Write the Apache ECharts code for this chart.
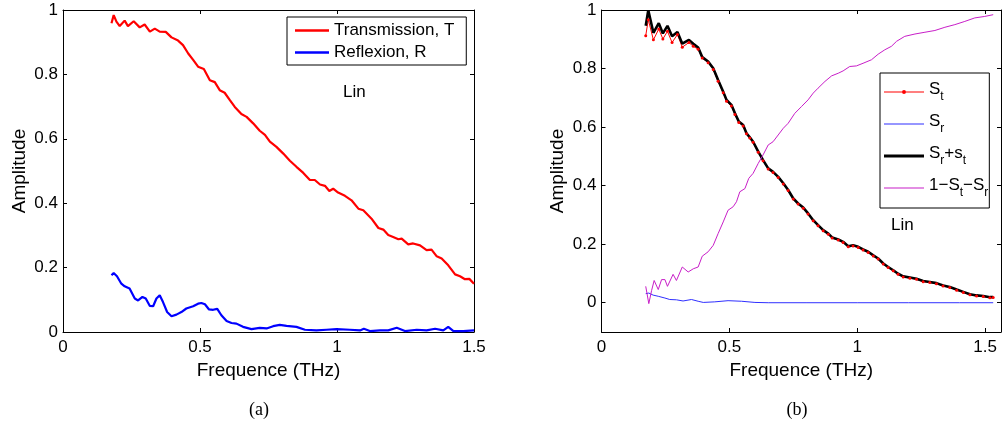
<!DOCTYPE html>
<html><head><meta charset="utf-8">
<script src="https://cdn.jsdelivr.net/npm/echarts@6/dist/echarts.min.js"></script>
<style>html,body{margin:0;padding:0;background:#fff}#c{width:1008px;height:433px}</style>
</head><body><div id="c"></div>
<script>
// ---- Panel (a) ----
const tFreq=[0.177,0.185,0.195,0.207,0.225,0.237,0.258,0.280,0.298,0.317,0.335,0.353,0.375,0.396,0.420,0.438,0.457,0.475,0.493,0.514,0.536,0.554,0.572,0.590,0.609,0.627,0.651,0.670,0.694,0.718,0.737,0.755,0.779,0.804,0.828,0.852,0.877,0.901,0.919,0.938,0.956,0.972,0.986,1.004,1.029,1.053,1.078,1.096,1.126,1.151,1.169,1.187,1.205,1.224,1.236,1.260,1.278,1.303,1.327,1.345,1.364,1.382,1.406,1.431,1.449,1.467,1.483,1.500];
const tAmp=[0.959,0.984,0.964,0.950,0.967,0.950,0.965,0.946,0.955,0.933,0.942,0.933,0.932,0.915,0.905,0.891,0.865,0.845,0.824,0.817,0.782,0.776,0.751,0.743,0.720,0.699,0.677,0.668,0.648,0.625,0.612,0.591,0.575,0.554,0.532,0.513,0.494,0.472,0.472,0.458,0.454,0.438,0.445,0.433,0.423,0.409,0.383,0.378,0.352,0.323,0.318,0.301,0.295,0.288,0.290,0.272,0.275,0.269,0.254,0.256,0.235,0.228,0.207,0.179,0.173,0.164,0.165,0.150];
const rFreq=[0.177,0.185,0.197,0.213,0.225,0.243,0.262,0.274,0.290,0.302,0.317,0.329,0.341,0.353,0.365,0.380,0.396,0.414,0.432,0.450,0.475,0.493,0.505,0.518,0.533,0.548,0.563,0.578,0.597,0.615,0.633,0.657,0.688,0.718,0.743,0.767,0.791,0.816,0.852,0.883,0.925,0.962,0.998,1.047,1.084,1.098,1.120,1.157,1.187,1.218,1.248,1.291,1.327,1.358,1.388,1.406,1.425,1.461,1.500];
const rAmp=[0.176,0.183,0.173,0.150,0.142,0.135,0.104,0.098,0.109,0.104,0.081,0.080,0.104,0.114,0.093,0.062,0.049,0.054,0.062,0.073,0.080,0.088,0.090,0.086,0.070,0.069,0.072,0.052,0.034,0.028,0.026,0.016,0.009,0.013,0.011,0.018,0.022,0.019,0.016,0.007,0.005,0.007,0.009,0.007,0.005,0.010,0.003,0.005,0.005,0.013,0.003,0.007,0.005,0.010,0.005,0.016,0.003,0.003,0.005];

// ---- Panel (b) ----
const bFreq=[0.173,0.183,0.203,0.224,0.240,0.258,0.276,0.297,0.316,0.342,0.359,0.378,0.394,0.417,0.437,0.456,0.476,0.489,0.508,0.522,0.537,0.554,0.567,0.580,0.593,0.613,0.632,0.652,0.671,0.691,0.711,0.730,0.750,0.769,0.789,0.808,0.828,0.847,0.867,0.887,0.902,0.926,0.945,0.965,0.984,1.004,1.023,1.043,1.063,1.082,1.102,1.121,1.141,1.160,1.180,1.206,1.232,1.258,1.284,1.310,1.336,1.362,1.389,1.415,1.441,1.467,1.493,1.519,1.532];
const srstAmp=[0.946,0.999,0.922,0.955,0.920,0.946,0.910,0.925,0.885,0.898,0.885,0.872,0.839,0.824,0.801,0.761,0.721,0.693,0.676,0.647,0.619,0.607,0.579,0.565,0.550,0.516,0.487,0.459,0.447,0.430,0.408,0.385,0.356,0.339,0.325,0.305,0.282,0.265,0.248,0.236,0.223,0.216,0.208,0.193,0.196,0.191,0.182,0.174,0.162,0.151,0.134,0.122,0.111,0.099,0.090,0.086,0.082,0.074,0.071,0.067,0.059,0.054,0.045,0.037,0.029,0.025,0.023,0.019,0.019];
const stAmp=[0.912,0.967,0.898,0.935,0.901,0.927,0.889,0.916,0.873,0.889,0.876,0.866,0.836,0.820,0.797,0.757,0.717,0.688,0.672,0.643,0.616,0.604,0.577,0.563,0.548,0.514,0.485,0.457,0.445,0.428,0.406,0.383,0.354,0.337,0.323,0.303,0.280,0.263,0.246,0.234,0.221,0.214,0.206,0.191,0.194,0.189,0.180,0.172,0.160,0.149,0.132,0.120,0.109,0.097,0.088,0.084,0.080,0.072,0.069,0.065,0.057,0.052,0.043,0.035,0.027,0.023,0.021,0.017,0.018];
const srFreq=[0.173,0.185,0.202,0.222,0.248,0.267,0.293,0.319,0.352,0.378,0.398,0.443,0.495,0.548,0.600,0.652,0.800,1.000,1.200,1.400,1.532];
const srAmp=[0.031,0.033,0.026,0.022,0.016,0.011,0.010,0.006,0.011,0.005,0.001,0.003,0.007,0.005,0.001,0.000,0.000,0.000,0.000,0.000,0.000];
const lossFreq=[0.173,0.185,0.196,0.206,0.222,0.235,0.248,0.258,0.280,0.293,0.316,0.339,0.359,0.378,0.394,0.417,0.437,0.456,0.476,0.495,0.515,0.528,0.541,0.561,0.576,0.593,0.613,0.632,0.652,0.671,0.691,0.711,0.730,0.756,0.782,0.808,0.828,0.847,0.874,0.900,0.926,0.945,0.971,0.997,1.023,1.056,1.082,1.108,1.134,1.154,1.186,1.226,1.265,1.304,1.343,1.382,1.421,1.460,1.499,1.532];
const lossAmp=[0.056,-0.003,0.042,0.076,0.045,0.079,0.079,0.056,0.097,0.076,0.122,0.105,0.116,0.122,0.159,0.174,0.196,0.236,0.276,0.316,0.328,0.345,0.379,0.390,0.425,0.442,0.476,0.505,0.539,0.550,0.573,0.596,0.613,0.647,0.670,0.693,0.716,0.733,0.756,0.775,0.784,0.792,0.807,0.809,0.818,0.830,0.849,0.864,0.876,0.893,0.910,0.918,0.924,0.930,0.941,0.950,0.961,0.973,0.978,0.984];

const yTicks=[0,0.2,0.4,0.6,0.8,1];

const zip=(a,b)=>a.slice(0,Math.min(a.length,b.length)).map((v,i)=>[v,b[i]]);
const FONT='"Liberation Sans", Arial, Helvetica, sans-serif';
const axLine={show:true,onZero:false,lineStyle:{color:'#000',width:1}};
const tick={show:true,inside:true,length:4,lineStyle:{color:'#000',width:1}};

function xAxis(grid,max,bottom,extra){
  return Object.assign({type:'value',gridIndex:grid,min:0,max:max,interval:0.5,
    position:bottom?'bottom':'top',axisLine:axLine,axisTick:tick,splitLine:{show:false},
    axisLabel:{show:bottom,color:'#000',fontSize:17,fontFamily:FONT,margin:7},
    name:bottom?'Frequence (THz)':'',nameLocation:'middle',nameGap:23,
    nameTextStyle:{color:'#000',fontSize:19,fontFamily:FONT}},extra||{});
}
function yAxis(grid,min,left,custom){
  const a={type:'value',gridIndex:grid,min:min,max:1,position:left?'left':'right',
    axisLine:axLine,axisTick:Object.assign({},tick),splitLine:{show:false},
    axisLabel:{show:left,color:'#000',fontSize:17,fontFamily:FONT,margin:5},
    name:left?'Amplitude':'',nameLocation:'middle',nameGap:34,
    nameTextStyle:{color:'#000',fontSize:19,fontFamily:FONT}};
  if(custom){a.axisTick.customValues=yTicks;a.axisLabel.customValues=yTicks;}
  else {a.interval=0.2;}
  return a;
}
// legend line icons (horizontal strips; tiny corner specks fix the icon box)
function strip(w,h,th){
  const y0=(h-th)/2,y1=(h+th)/2;
  return 'path://M0,0 L0.01,0 L0,0.01 Z M0,'+y0+' L'+w+','+y0+' L'+w+','+y1+' L0,'+y1+' Z M'+w+','+h+' L'+(w-0.01)+','+h+' L'+w+','+(h-0.01)+' Z';
}
function stripDot(w,h,th,r){
  const c=w/2,m=h/2;
  return strip(w,h,th)+' M'+(c-r)+','+m+' A'+r+','+r+' 0 1 1 '+(c+r)+','+m+' A'+r+','+r+' 0 1 1 '+(c-r)+','+m+' Z';
}
const subRich={n:{fontSize:17,fontFamily:FONT,color:'#000',verticalAlign:'top',lineHeight:22},
               s:{fontSize:12,fontFamily:FONT,color:'#000',verticalAlign:'bottom',lineHeight:22}};
const legendFmt={'S_t':'{n|S}{s|t}','S_r':'{n|S}{s|r}','S_r+s_t':'{n|S}{s|r}{n|+s}{s|t}','1\u2212S_t\u2212S_r':'{n|1\u2212S}{s|t}{n|\u2212S}{s|r}'};

const option={
  animation:false,
  backgroundColor:'#fff',
  grid:[{left:63,top:10,width:411,bottom:101},{left:601.5,top:10,right:7,bottom:101}],
  xAxis:[xAxis(0,1.5,true),xAxis(1,1.5625,true,{axisLabel:{show:true,color:'#000',fontSize:17,fontFamily:FONT,margin:7,showMaxLabel:false}}),
         xAxis(0,1.5,false),xAxis(1,1.5625,false)],
  yAxis:[yAxis(0,0,true,false),yAxis(1,-0.1,true,true),yAxis(0,0,false,false),yAxis(1,-0.1,false,true)],
  legend:[
    {data:[{name:'Transmission, T',icon:strip(34,14,2.4)},{name:'Reflexion, R',icon:strip(34,14,2.4)}],
     orient:'vertical',left:287,top:17,padding:[5,12,4,8],
     itemWidth:34,itemHeight:14,itemGap:5,borderColor:'#000',borderWidth:1,
     itemStyle:{borderWidth:0},
     textStyle:{fontSize:17,fontFamily:FONT,color:'#000'}},
    {data:[{name:'S_t',icon:stripDot(40,14,1,2)},{name:'S_r',icon:strip(40,14,1.2)},
           {name:'S_r+s_t',icon:strip(40,14,3)},{name:'1\u2212S_t\u2212S_r',icon:strip(40,14,1.2)}],
     orient:'vertical',left:880,top:73,padding:[8,1,9,4],
     itemWidth:40,itemHeight:14,itemGap:10,borderColor:'#000',borderWidth:1,
     itemStyle:{borderWidth:0},
     formatter:n=>legendFmt[n]||n,
     textStyle:{fontSize:17,fontFamily:FONT,color:'#000',rich:subRich}}
  ],
  series:[
    {name:'Transmission, T',type:'line',xAxisIndex:0,yAxisIndex:0,data:zip(tFreq,tAmp),symbol:'none',
     lineStyle:{color:'#ff0000',width:2.2},itemStyle:{color:'#ff0000'}},
    {name:'Reflexion, R',type:'line',xAxisIndex:0,yAxisIndex:0,data:zip(rFreq,rAmp),symbol:'none',
     lineStyle:{color:'#0000ff',width:2.2},itemStyle:{color:'#0000ff'}},
    {name:'S_t',type:'line',xAxisIndex:1,yAxisIndex:1,data:zip(bFreq,stAmp),symbol:'circle',symbolSize:3,showSymbol:true,
     lineStyle:{color:'#ff0000',width:1},itemStyle:{color:'#ff0000'}},
    {name:'S_r',type:'line',xAxisIndex:1,yAxisIndex:1,data:zip(srFreq,srAmp),symbol:'none',
     lineStyle:{color:'#2f2fff',width:1},itemStyle:{color:'#2f2fff'}},
    {name:'S_r+s_t',type:'line',xAxisIndex:1,yAxisIndex:1,data:zip(bFreq,srstAmp),symbol:'none',
     lineStyle:{color:'#000',width:2.6},itemStyle:{color:'#000'}},
    {name:'1\u2212S_t\u2212S_r',type:'line',xAxisIndex:1,yAxisIndex:1,data:zip(lossFreq,lossAmp),symbol:'none',
     lineStyle:{color:'#c81ec8',width:1},itemStyle:{color:'#c81ec8'}}
  ],
  graphic:[
    {type:'text',x:343,y:92,style:{text:'Lin',font:'17px '+FONT,fill:'#000',align:'left',verticalAlign:'middle'}},
    {type:'text',x:891,y:225,style:{text:'Lin',font:'17px '+FONT,fill:'#000',align:'left',verticalAlign:'middle'}},
    {type:'text',x:259,y:410,style:{text:'(a)',font:'18px "Liberation Serif", "DejaVu Serif", serif',fill:'#000',align:'center',verticalAlign:'middle'}},
    {type:'text',x:797,y:410,style:{text:'(b)',font:'18px "Liberation Serif", "DejaVu Serif", serif',fill:'#000',align:'center',verticalAlign:'middle'}}
  ]
};
echarts.init(document.getElementById('c'),null,{renderer:'canvas'}).setOption(option);
</script></body></html>
